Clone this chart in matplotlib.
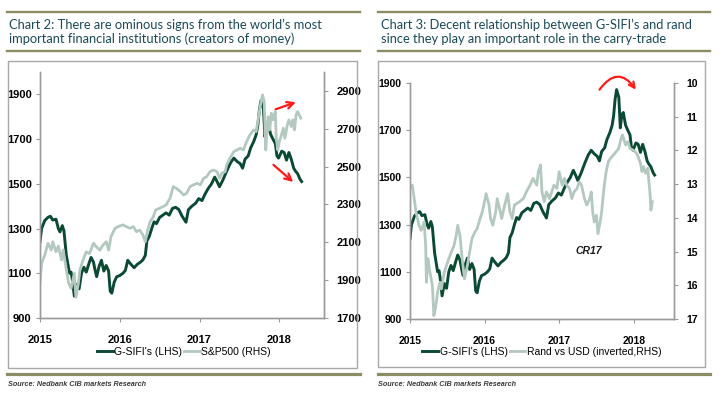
import matplotlib
matplotlib.use("Agg")
import matplotlib.pyplot as plt
from matplotlib import font_manager
from matplotlib.lines import Line2D
from matplotlib.patches import Rectangle

# --- data (decimal years) ---
gsifi_t = [2015.00, 2015.02, 2015.06, 2015.10, 2015.13, 2015.16, 2015.20, 2015.23, 2015.25, 2015.28,
           2015.30, 2015.33, 2015.37, 2015.39, 2015.41, 2015.43, 2015.46, 2015.49, 2015.52, 2015.55,
           2015.58, 2015.61, 2015.64, 2015.67, 2015.69, 2015.71, 2015.74, 2015.77, 2015.80, 2015.83,
           2015.86, 2015.88, 2015.90, 2015.93, 2015.96, 2016.00, 2016.04, 2016.07, 2016.10, 2016.14,
           2016.18, 2016.22, 2016.26, 2016.29, 2016.32, 2016.34, 2016.37, 2016.40, 2016.43, 2016.46,
           2016.50, 2016.54, 2016.58, 2016.62, 2016.66, 2016.70, 2016.74, 2016.78, 2016.83, 2016.86,
           2016.90, 2016.95, 2016.99, 2017.03, 2017.07, 2017.11, 2017.15, 2017.19, 2017.22, 2017.25,
           2017.29, 2017.32, 2017.35, 2017.39, 2017.43, 2017.47, 2017.51, 2017.54, 2017.57, 2017.61,
           2017.64, 2017.68, 2017.71, 2017.73, 2017.75, 2017.77, 2017.80, 2017.82, 2017.84, 2017.86,
           2017.89, 2017.92, 2017.95, 2017.97, 2017.99, 2018.03, 2018.06, 2018.09, 2018.12, 2018.15,
           2018.18, 2018.20, 2018.23, 2018.26, 2018.28]
gsifi_v = [1240, 1300, 1336, 1350, 1355, 1338, 1342, 1300, 1285, 1313,
           1290, 1180, 1100, 1105, 1060, 998, 1050, 1030, 1100, 1127,
           1105, 1140, 1171, 1150, 1115, 1085, 1130, 1158, 1110, 1135,
           1110, 1020, 1011, 1060, 1084, 1090, 1100, 1113, 1158, 1140,
           1125, 1140, 1150, 1160, 1180, 1245, 1265, 1300, 1330, 1322,
           1350, 1360, 1370, 1360, 1390, 1395, 1385, 1356, 1328, 1384,
           1399, 1413, 1434, 1425, 1455, 1480, 1500, 1530, 1510, 1487,
           1515, 1540, 1565, 1595, 1615, 1600, 1590, 1570, 1610, 1625,
           1660, 1690, 1720, 1760, 1830, 1872, 1840, 1710, 1766, 1775,
           1722, 1700, 1680, 1625, 1615, 1646, 1640, 1606, 1640, 1610,
           1570, 1558, 1545, 1520, 1510]

spx_t = [2015.00, 2015.02, 2015.06, 2015.10, 2015.14, 2015.16, 2015.20, 2015.23, 2015.27, 2015.29,
         2015.33, 2015.36, 2015.39, 2015.43, 2015.45, 2015.48, 2015.50, 2015.54, 2015.58, 2015.62,
         2015.67, 2015.71, 2015.75, 2015.79, 2015.83, 2015.86, 2015.89, 2015.94, 2015.98, 2016.04,
         2016.08, 2016.13, 2016.17, 2016.21, 2016.25, 2016.29, 2016.32, 2016.35, 2016.38, 2016.42,
         2016.45, 2016.50, 2016.54, 2016.58, 2016.63, 2016.67, 2016.71, 2016.76, 2016.80, 2016.84,
         2016.88, 2016.92, 2016.97, 2017.01, 2017.05, 2017.09, 2017.13, 2017.17, 2017.22, 2017.25,
         2017.28, 2017.32, 2017.34, 2017.38, 2017.43, 2017.47, 2017.51, 2017.55, 2017.59, 2017.63,
         2017.68, 2017.71, 2017.74, 2017.76, 2017.79, 2017.81, 2017.83, 2017.84, 2017.86, 2017.88,
         2017.90, 2017.92, 2017.95, 2017.96, 2017.98, 2018.00, 2018.02, 2018.05, 2018.07, 2018.10,
         2018.12, 2018.15, 2018.17, 2018.19, 2018.21, 2018.23, 2018.25, 2018.27]
spx_v = [1883, 1989, 2033, 2095, 2059, 2103, 2050, 2080, 2007, 2060,
         1954, 1883, 1857, 1936, 1810, 1880, 1954, 2007, 2050, 2040,
         2095, 2075, 2059, 2085, 2103, 2059, 2130, 2174, 2183, 2192,
         2183, 2174, 2183, 2156, 2165, 2139, 2103, 2165, 2209, 2235,
         2271, 2280, 2288, 2297, 2333, 2394, 2385, 2368, 2350, 2360,
         2394, 2403, 2412, 2403, 2438, 2447, 2473, 2482, 2473, 2438,
         2465, 2473, 2509, 2544, 2579, 2588, 2597, 2588, 2632, 2667,
         2694, 2685, 2764, 2817, 2879, 2843, 2588, 2658, 2764, 2694,
         2782, 2747, 2791, 2658, 2588, 2632, 2658, 2703, 2650, 2720,
         2747, 2712, 2747, 2694, 2773, 2791, 2773, 2756]

zar_t = [2015.00, 2015.03, 2015.05, 2015.08, 2015.12, 2015.15, 2015.19, 2015.21, 2015.22, 2015.24,
         2015.26, 2015.30, 2015.32, 2015.34, 2015.37, 2015.40, 2015.42, 2015.46, 2015.49, 2015.52,
         2015.59, 2015.62, 2015.64, 2015.67, 2015.69, 2015.71, 2015.73, 2015.77, 2015.80, 2015.83,
         2015.87, 2015.90, 2015.94, 2015.97, 2015.99, 2016.02, 2016.06, 2016.08, 2016.11, 2016.15,
         2016.17, 2016.20, 2016.23, 2016.27, 2016.31, 2016.34, 2016.37, 2016.40, 2016.47, 2016.52,
         2016.56, 2016.61, 2016.65, 2016.70, 2016.72, 2016.75, 2016.77, 2016.80, 2016.83, 2016.87,
         2016.93, 2016.97, 2017.00, 2017.04, 2017.07, 2017.10, 2017.14, 2017.17, 2017.20, 2017.24,
         2017.27, 2017.30, 2017.34, 2017.37, 2017.41, 2017.43, 2017.45, 2017.47, 2017.50, 2017.52,
         2017.55, 2017.57, 2017.60, 2017.63, 2017.66, 2017.69, 2017.73, 2017.80, 2017.83, 2017.85,
         2017.89, 2017.92, 2017.95, 2017.99, 2018.02, 2018.05, 2018.09, 2018.11, 2018.13, 2018.16,
         2018.19, 2018.20, 2018.22, 2018.23, 2018.25]
zar_v = [13.13, 13.03, 13.33, 13.82, 14.22, 14.37, 14.12, 14.82, 15.91, 15.21,
         15.51, 16.01, 16.90, 16.70, 16.21, 15.91, 16.11, 15.61, 15.41, 15.21,
         14.82, 14.52, 14.22, 14.52, 15.01, 15.41, 15.81, 15.41, 15.01, 14.62,
         14.42, 14.32, 14.02, 13.82, 13.62, 13.28, 13.62, 14.02, 14.22, 13.82,
         13.43, 13.72, 14.02, 13.62, 13.28, 13.82, 14.02, 13.62, 13.52, 13.43,
         13.23, 13.03, 12.83, 13.03, 12.63, 12.43, 13.23, 13.52, 13.23, 13.43,
         13.03, 13.13, 12.63, 13.03, 12.83, 13.03, 13.13, 13.43, 13.23, 13.13,
         12.93, 13.03, 13.43, 13.62, 13.43, 13.23, 13.82, 14.12, 13.92, 14.47,
         14.12, 13.82, 13.13, 12.63, 12.33, 12.23, 12.13, 11.94, 11.64, 11.54,
         11.84, 11.74, 11.94, 11.99, 12.04, 12.13, 12.38, 12.63, 12.48, 12.68,
         12.53, 12.83, 13.33, 13.77, 13.52]

years = [2015, 2016, 2017, 2018]
titles = ["Chart 2: There are ominous signs from the world\u2019s most\nimportant financial institutions (creators of money)",
          "Chart 3: Decent relationship between G-SIFI\u2019s and rand\nsince they play an important role in the carry-trade"]
source = "Source: Nedbank CIB markets Research"

# --- styling ---
DARK = "#0a4a33"
LIGHT = "#b3c9c0"
OLIVE = "#8c8c66"
TITLE_C = "#1a4a58"
GRID_C = "#9a9a9a"

installed = {f.name for f in font_manager.fontManager.ttflist}
NARROW = "Liberation Sans Narrow" if "Liberation Sans Narrow" in installed else "Liberation Sans"
TITLE_F = "Lato" if "Lato" in installed else "DejaVu Sans"

W, H = 722, 395
fig = plt.figure(figsize=(W / 100, H / 100), dpi=100)


def fx(x):
    return x / W


def fy(y):
    return 1 - y / H


def hline(x0, x1, y, lw):
    fig.add_artist(Line2D([fx(x0), fx(x1)], [fy(y), fy(y)], color=OLIVE, lw=lw,
                          transform=fig.transFigure))


def style_axes(ax, ax2, tick_fs):
    for a in (ax, ax2):
        a.spines["top"].set_visible(False)
        for s in ("left", "right", "bottom"):
            a.spines[s].set_color(GRID_C)
            a.spines[s].set_linewidth(1.0)
        a.patch.set_visible(False)
    ax.set_xticks(years)
    ax.set_xticklabels([str(y) for y in years])
    ax.tick_params(axis="x", direction="out", length=3, width=0.8, color=GRID_C, pad=9)
    ax.tick_params(axis="y", direction="out", length=3, width=0.8, color=GRID_C, pad=3)
    ax2.tick_params(axis="y", direction="out", length=3, width=0.8, color=GRID_C, pad=6)
    for lab in ax.get_xticklabels() + ax.get_yticklabels() + ax2.get_yticklabels():
        lab.set_fontfamily(NARROW)
        lab.set_fontweight("bold")
        lab.set_fontsize(tick_fs)


# --- panel decorations ---
for (x0, x1) in [(7, 360), (378, 710)]:
    hline(x0, x1, 12, 1.7)
    hline(x0, x1, 51, 1.7)
    hline(x0, x1, 374, 2.3)
for i, tx in enumerate([9, 381]):
    fig.text(fx(tx), fy(32), titles[i], fontsize=9.3, family=TITLE_F, color=TITLE_C,
             va="center", ha="left", linespacing=1.15)
    fig.text(fx([8, 378][i]), fy(384), source, fontsize=5.2, family="Liberation Sans",
             style="italic", fontweight="bold", color="#3a3a3a", va="center", ha="left")
fig.add_artist(Rectangle((fx(8), fy(368)), fx(357) - fx(8), fy(61) - fy(368), fill=False,
                         edgecolor="#a8a8a8", lw=1.0, transform=fig.transFigure))
fig.add_artist(Rectangle((fx(378), fy(367)), fx(705) - fx(378), fy(61) - fy(367), fill=False,
                         edgecolor="#a8a8a8", lw=1.0, transform=fig.transFigure))

# --- Chart 2 ---
axL = fig.add_axes([fx(40), fy(318), (324 - 40) / W, (318 - 72) / H])
axL2 = axL.twinx()
l1, = axL.plot(gsifi_t, gsifi_v, color=DARK, lw=2.1, label="G-SIFI's (LHS)")
l2, = axL2.plot(spx_t, spx_v, color=LIGHT, lw=2.0, label="S&P500 (RHS)")
axL.set_xlim(2015.0, 2018.56)
axL.set_ylim(900, 2000)
axL.set_yticks([900, 1100, 1300, 1500, 1700, 1900])
axL2.set_ylim(1700, 3000)
axL2.set_yticks([1700, 1900, 2100, 2300, 2500, 2700, 2900])
style_axes(axL, axL2, 8)
axL.legend(handles=[l1, l2], loc="center", bbox_to_anchor=(fx(184), fy(352)),
           bbox_transform=fig.transFigure, ncol=2, frameon=False, handlelength=1.5,
           handletextpad=0.15, columnspacing=0.2, prop={"family": NARROW, "size": 7.5})
arrow = dict(arrowstyle="->", color="#ff1a1a", lw=1.6, mutation_scale=12)
axL.annotate("", xy=(2018.24, 1869), xytext=(2017.92, 1829), arrowprops=arrow,
             annotation_clip=False)
axL.annotate("", xy=(2018.20, 1500), xytext=(2017.90, 1593), arrowprops=arrow,
             annotation_clip=False)

# --- Chart 3 ---
axR = fig.add_axes([fx(410), fy(319), (674 - 410) / W, (319 - 83) / H])
axR2 = axR.twinx()
r1, = axR.plot(gsifi_t, gsifi_v, color=DARK, lw=2.1, label="G-SIFI's (LHS)")
r2, = axR2.plot(zar_t, zar_v, color=LIGHT, lw=2.0, label="Rand vs USD (inverted,RHS)")
axR.set_xlim(2015.0, 2018.54)
axR.set_ylim(900, 1900)
axR.set_yticks([900, 1100, 1300, 1500, 1700, 1900])
axR2.set_ylim(17, 10)
axR2.set_yticks(list(range(10, 18)))
style_axes(axR, axR2, 7.5)
axR.legend(handles=[r1, r2], loc="center", bbox_to_anchor=(fx(542), fy(352)),
           bbox_transform=fig.transFigure, ncol=2, frameon=False, handlelength=1.5,
           handletextpad=0.15, columnspacing=0.2, prop={"family": NARROW, "size": 7.5})
axR.annotate("", xy=(2018.05, 1862), xytext=(2017.52, 1862),
             arrowprops=dict(arrowstyle="->", color="#ff1a1a", lw=1.6, mutation_scale=10,
                             connectionstyle="arc3,rad=-0.75"),
             annotation_clip=False)
axR.text(2017.40, 1188, "CR17", fontsize=7.5, family=NARROW, style="italic",
         fontweight="bold", color="#1a1a1a", ha="center", va="center")

fig.savefig("out.png", dpi=100)
